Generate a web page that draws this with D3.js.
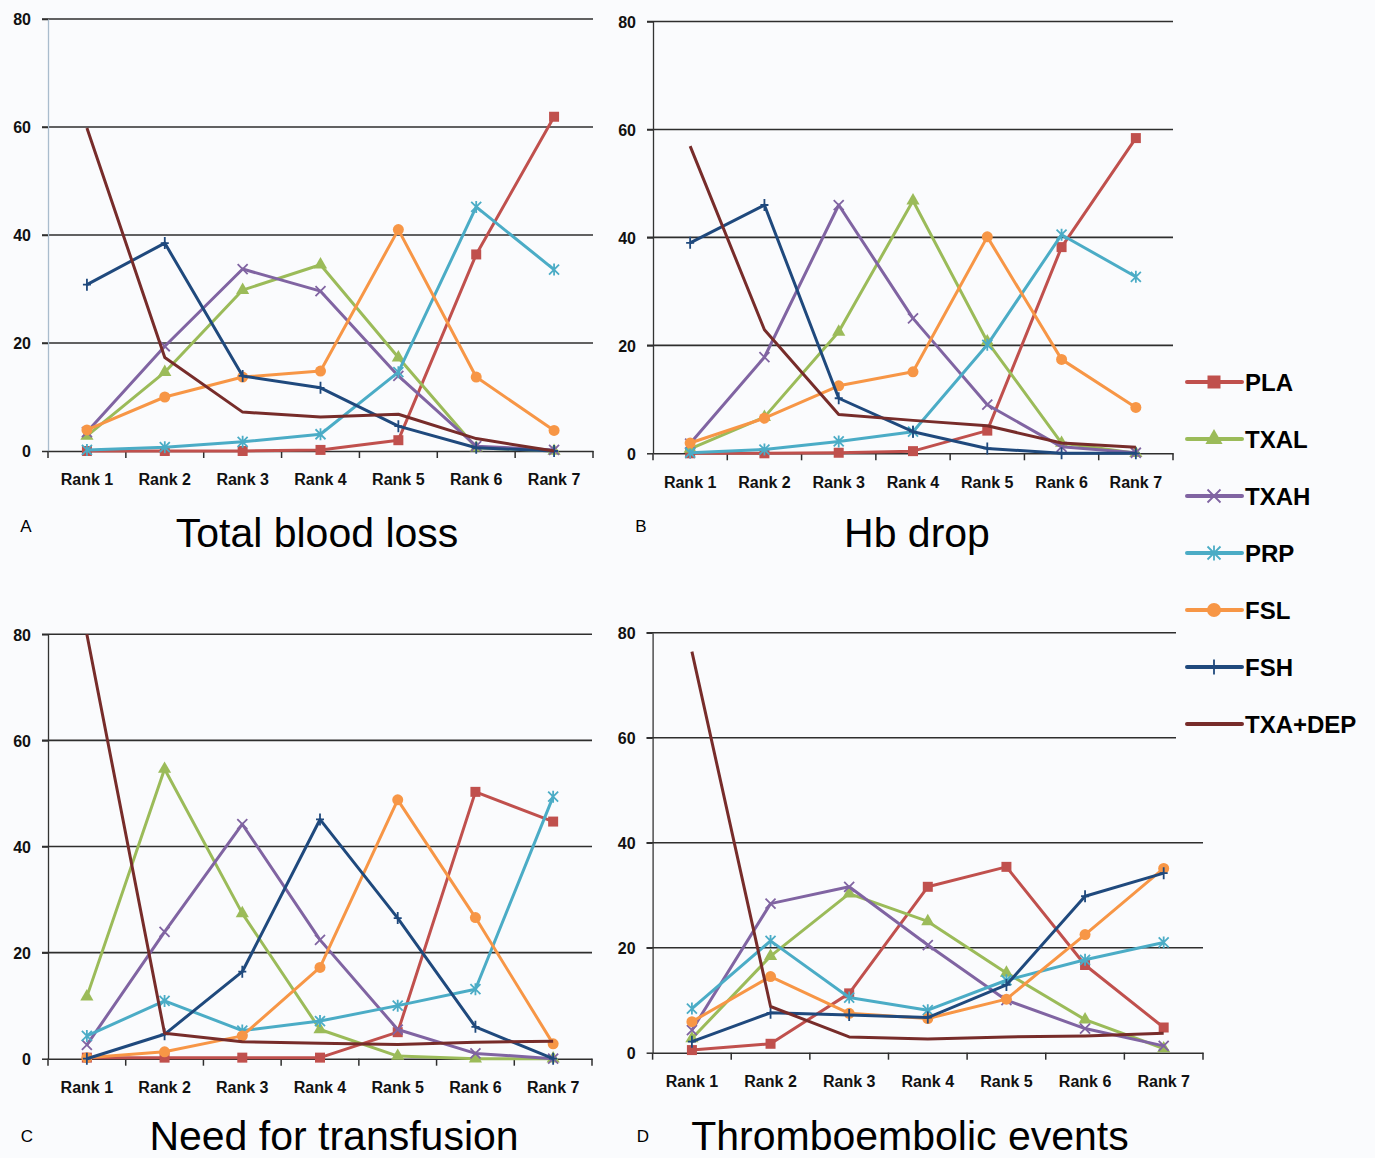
<!DOCTYPE html>
<html>
<head>
    <title>Rank probabilities</title>
    <script src="https://d3js.org/d3.v7.min.js"></script>
    <style>
        body { margin: 0; background: #fafbfd; }
        svg { display: block; }
        .tick-label { font-family: "Liberation Sans", Arial, sans-serif; font-weight: bold; font-size: 16px; fill: #111; }
        .title { font-family: "Liberation Sans", Arial, sans-serif; font-size: 41px; fill: #000; }
        .letter { font-family: "Liberation Sans", Arial, sans-serif; font-size: 17px; fill: #000; }
        .legend-text { font-family: "Liberation Sans", Arial, sans-serif; font-weight: bold; font-size: 24px; fill: #000; }
    </style>
</head>
<body>
    <svg id="chart" width="1375" height="1158"></svg>

    <script>
        // ranks on the x axis and the seven treatments
        const categories = ["Rank 1", "Rank 2", "Rank 3", "Rank 4", "Rank 5", "Rank 6", "Rank 7"];
        const seriesNames = ["PLA", "TXAL", "TXAH", "PRP", "FSL", "FSH", "TXA+DEP"];
        const yTicks = [0, 20, 40, 60, 80];

        // one row per treatment, same order as seriesNames
        const totalBloodLoss = [
            [0, 0, 0, 0.2, 2.0, 36.4, 61.9],
            [2.8, 14.6, 29.8, 34.5, 17.3, 0.6, 0],
            [3.5, 19.4, 33.7, 29.6, 13.9, 0.9, 0.2],
            [0.2, 0.7, 1.7, 3.1, 14.6, 45.2, 33.6],
            [3.9, 10.0, 13.7, 14.8, 41.0, 13.7, 3.8],
            [30.8, 38.5, 13.9, 11.7, 4.6, 0.6, 0],
            [59.8, 17.3, 7.2, 6.3, 6.8, 2.3, 0]
        ];
        const hbDrop = [
            [0, 0, 0.1, 0.4, 4.2, 38.2, 58.4],
            [0.8, 6.7, 22.5, 46.8, 20.7, 1.9, 0],
            [1.8, 17.8, 46.0, 25.0, 9.0, 1.2, 0.1],
            [0.1, 0.7, 2.2, 4.0, 20.1, 40.5, 32.7],
            [1.9, 6.5, 12.5, 15.1, 40.1, 17.4, 8.5],
            [39.0, 46.0, 10.2, 4.0, 0.9, 0, 0],
            [56.9, 22.9, 7.2, 6.1, 5.1, 1.9, 1.1]
        ];
        const needForTransfusion = [
            [0.2, 0.2, 0.2, 0.2, 5.0, 50.3, 44.7],
            [11.7, 54.6, 27.4, 5.5, 0.5, 0, 0],
            [2.6, 23.9, 44.2, 22.4, 5.5, 1.0, 0],
            [4.3, 10.9, 5.3, 7.1, 10.0, 13.1, 49.4],
            [0.2, 1.3, 4.3, 17.2, 48.8, 26.6, 2.8],
            [0, 4.6, 16.4, 45.1, 26.5, 6.0, 0],
            [80, 4.8, 3.2, 2.9, 2.7, 3.1, 3.3]
        ];
        const thromboembolicEvents = [
            [0.5, 1.7, 11.3, 31.6, 35.4, 16.7, 4.8],
            [2.7, 18.4, 30.3, 25.0, 15.2, 6.3, 0.8],
            [4.3, 28.4, 31.6, 20.5, 10.0, 4.6, 1.3],
            [8.4, 21.3, 10.5, 8.1, 13.8, 17.7, 21.0],
            [5.9, 14.5, 7.5, 6.5, 10.2, 22.5, 35.1],
            [2.1, 7.6, 7.2, 6.7, 12.9, 29.8, 34.2],
            [76.4, 8.8, 3.0, 2.6, 3.0, 3.2, 3.7]
        ];
        const panelTitles = ["Total blood loss", "Hb drop", "Need for transfusion", "Thromboembolic events"];
        const panelLetters = ["A", "B", "C", "D"];

        // styles
        const colors = ["#c0504d", "#9bbb59", "#8064a2", "#4bacc6", "#f79646", "#1f497d", "#772c2a"];
        const markers = ["square", "triangle", "x", "star", "circle", "plus", "none"];
        const bg = "#fafbfd";

        // layout of the four panels
        const panels = [
            { data: totalBloodLoss, x0: 48, x1: 593, yTop: 19, yBot: 451, gridEnd: 593,
              titleX: 317, titleY: 547, letterX: 26, letterY: 532, axisColor: "#a9bccd" },
            { data: hbDrop, x0: 653, x1: 1173, yTop: 21.5, yBot: 453.3, gridEnd: 1173,
              titleX: 917, titleY: 547, letterX: 641, letterY: 532, axisColor: "#333" },
            { data: needForTransfusion, x0: 48, x1: 592, yTop: 634.3, yBot: 1058.7, gridEnd: 592,
              titleX: 334, titleY: 1150, letterX: 27, letterY: 1142, axisColor: "#333" },
            { data: thromboembolicEvents, x0: 652.6, x1: 1203, yTop: 632.7, yBot: 1052.7, gridEnd: 1203,
              titleX: 910, titleY: 1150, letterX: 643, letterY: 1142, axisColor: "#333" }
        ];

        const svg = d3.select("#chart");
        svg.append("rect").attr("width", 1375).attr("height", 1158).attr("fill", bg);

        function drawMarker(g, type, color, s) {
            if (type === "square") {
                g.append("path").attr("d", d3.symbol(d3.symbolSquare, s * s)()).attr("fill", color);
            } else if (type === "triangle") {
                g.append("path").attr("d", d3.symbol(d3.symbolTriangle, s * s * 0.75)()).attr("fill", color);
            } else if (type === "circle") {
                g.append("circle").attr("r", s / 2 + 0.5).attr("fill", color);
            } else if (type === "x" || type === "star" || type === "plus") {
                const h = s / 2;
                let d = "";
                if (type !== "plus") d += `M${-h},${-h}L${h},${h}M${-h},${h}L${h},${-h}`;
                if (type !== "x") d += `M0,${-h - 1}L0,${h + 1}`;
                if (type === "plus") d += `M${-h + 1},0L${h - 1},0`;
                g.append("path").attr("d", d).attr("stroke", color)
                    .attr("stroke-width", 1.8).attr("fill", "none");
            }
        }

        panels.forEach((p, pi) => {
            const g = svg.append("g");
            const x = d3.scaleBand().domain(categories).range([p.x0, p.x1]).padding(0);
            const y = d3.scaleLinear().domain([0, 80]).range([p.yBot, p.yTop]);

            // gridlines
            g.selectAll(".grid").data(yTicks.filter(t => t > 0)).enter().append("line")
                .attr("x1", p.x0 - 6).attr("x2", p.gridEnd)
                .attr("y1", d => y(d)).attr("y2", d => y(d))
                .attr("stroke", "#2e2e2e").attr("stroke-width", 1.6);

            // y axis
            const yAxis = g.append("g").attr("transform", `translate(${p.x0},0)`)
                .call(d3.axisLeft(y).tickValues(yTicks).tickSize(6).tickPadding(11).tickSizeOuter(0));
            yAxis.select(".domain").attr("stroke", p.axisColor).attr("stroke-width", 1.3);
            yAxis.selectAll(".tick line").attr("stroke", "#2e2e2e").attr("stroke-width", 1.5);
            yAxis.selectAll(".tick text").attr("class", "tick-label").attr("dy", "0.36em");

            // x axis
            const xAxis = g.append("g").attr("transform", `translate(0,${p.yBot})`)
                .call(d3.axisBottom(x).tickSize(0).tickPadding(23));
            xAxis.select(".domain").attr("stroke", "#2e2e2e").attr("stroke-width", 1.6);
            xAxis.selectAll(".tick text").attr("class", "tick-label");
            const bounds = categories.map(c => x(c)).concat([x(categories[categories.length - 1]) + x.bandwidth()]);
            g.selectAll(".xt").data(bounds).enter().append("line")
                .attr("x1", d => d).attr("x2", d => d)
                .attr("y1", p.yBot).attr("y2", p.yBot + 7)
                .attr("stroke", "#2e2e2e").attr("stroke-width", 1.5);

            // series
            const line = d3.line()
                .x((d, i) => x(categories[i]) + x.bandwidth() / 2)
                .y(d => y(d));
            p.data.forEach((vals, si) => {
                g.append("path").datum(vals)
                    .attr("d", line)
                    .attr("fill", "none")
                    .attr("stroke", colors[si])
                    .attr("stroke-width", 3)
                    .attr("stroke-linejoin", "round");
                vals.forEach((v, i) => {
                    const mg = g.append("g")
                        .attr("transform", `translate(${x(categories[i]) + x.bandwidth() / 2},${y(v)})`);
                    drawMarker(mg, markers[si], colors[si], 10);
                });
            });

            // labels
            svg.append("text").attr("class", "title")
                .attr("x", p.titleX).attr("y", p.titleY).attr("text-anchor", "middle")
                .text(panelTitles[pi]);
            svg.append("text").attr("class", "letter")
                .attr("x", p.letterX).attr("y", p.letterY).attr("text-anchor", "middle")
                .text(panelLetters[pi]);
        });

        // legend (its box hides the ends of the upper gridlines of panel D)
        const legend = svg.append("g");
        legend.append("rect").attr("x", 1176).attr("y", 0).attr("width", 199).attr("height", 790).attr("fill", bg);
        seriesNames.forEach((name, i) => {
            const ly = 382 + i * 57;
            legend.append("line")
                .attr("x1", 1187).attr("x2", 1242).attr("y1", ly).attr("y2", ly)
                .attr("stroke", colors[i]).attr("stroke-width", 4).attr("stroke-linecap", "round");
            const mg = legend.append("g").attr("transform", `translate(1214,${ly})`);
            drawMarker(mg, markers[i], colors[i], 13);
            legend.append("text").attr("class", "legend-text")
                .attr("x", 1245).attr("y", ly).attr("dy", "0.36em")
                .text(name);
        });
    </script>
</body>
</html>
